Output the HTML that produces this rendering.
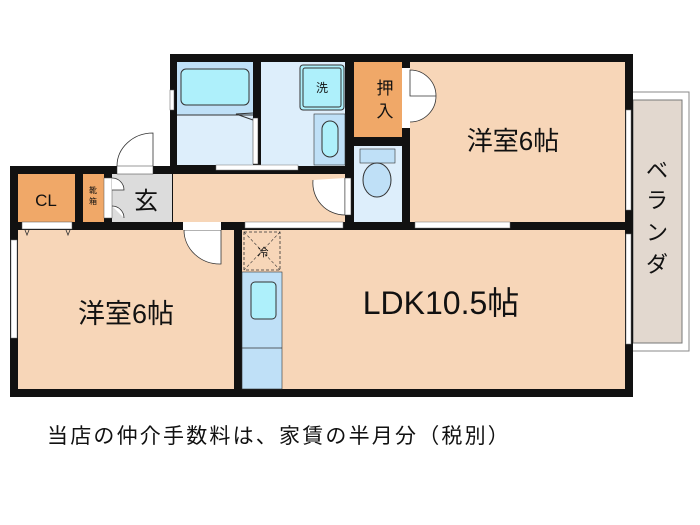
<!DOCTYPE html>
<html><head><meta charset="utf-8"><style>
body{margin:0;background:#fff;width:700px;height:525px;overflow:hidden}
svg{position:absolute;left:0;top:0}
text{font-family:"Liberation Sans","Noto Sans CJK JP",sans-serif;fill:#111}
</style></head><body>
<svg width="700" height="525" viewBox="0 0 700 525">
<rect x="625" y="92" width="64" height="259" fill="#fff" stroke="#888" stroke-width="1"/>
<rect x="633" y="100" width="49" height="243" fill="#e2d8cf" stroke="#777" stroke-width="1"/>
<rect x="170" y="54" width="463" height="343" fill="#111"/>
<rect x="10" y="166" width="165" height="231" fill="#111"/>
<rect x="177" y="62" width="76" height="53" fill="#bfe0f7"/>
<rect x="181" y="69" width="68" height="36" rx="5" fill="#aef0fb" stroke="#333" stroke-width="1"/>
<rect x="177" y="115" width="76" height="50" fill="#ddeefb"/>
<line x1="177" y1="115" x2="253" y2="115" stroke="#333"/>
<polyline points="253,113 236,114 253,120" fill="none" stroke="#333"/>
<rect x="170" y="90" width="4" height="20" fill="#fff" stroke="#555" stroke-width="0.5"/>
<rect x="261" y="62" width="84" height="104" fill="#ddeefb"/>
<rect x="300" y="65" width="44" height="45" rx="3" fill="#aef0fb" stroke="#333"/>
<rect x="303" y="68" width="38" height="39" rx="2" fill="none" stroke="#333"/>
<text x="322" y="92" font-size="12" text-anchor="middle">洗</text>
<rect x="314" y="114" width="31" height="51" fill="#bfe0f7" stroke="#333" stroke-width="0.6"/>
<rect x="322" y="121" width="16" height="36" rx="8" fill="#aef0fb" stroke="#333"/>
<rect x="253" y="118" width="5" height="46" fill="#fff" stroke="#333" stroke-width="0.5"/>
<rect x="216" y="165" width="82" height="5" fill="#fff" stroke="#777" stroke-width="0.5"/>
<rect x="354" y="62" width="48" height="75" fill="#f0a868"/>
<text x="385" y="94" font-size="17" text-anchor="middle">押</text>
<text x="385" y="117" font-size="17" text-anchor="middle">入</text>
<rect x="354" y="146" width="48" height="76" fill="#ddeefb"/>
<rect x="360" y="149" width="35" height="14" fill="#bfe0f7" stroke="#333" stroke-width="0.6"/>
<ellipse cx="377" cy="180" rx="14" ry="17" fill="#bfe0f7" stroke="#333"/>
<rect x="410" y="62" width="215" height="160" fill="#f7d6b8"/>
<rect x="402" y="68" width="8" height="60" fill="#fff"/>
<path d="M410,70 A26,26 0 0 1 436,96 L410,96 Z M410,96 L436,96 A26,26 0 0 1 410,122" fill="#fff" stroke="#333" stroke-width="0.8"/>
<text x="513" y="150" font-size="26" text-anchor="middle">洋室6帖</text>
<rect x="626" y="110" width="5" height="100" fill="#fff" stroke="#777" stroke-width="0.5"/>
<rect x="415" y="222" width="95" height="6" fill="#fff" stroke="#777" stroke-width="0.5"/>
<rect x="18" y="174" width="57" height="48" fill="#f0a868"/>
<text x="46" y="206" font-size="17" text-anchor="middle">CL</text>
<rect x="83" y="174" width="21" height="48" fill="#f0a868"/>
<text x="93" y="193" font-size="8" text-anchor="middle">靴</text>
<text x="93" y="204" font-size="8" text-anchor="middle">箱</text>
<rect x="112" y="174" width="60" height="48" fill="#dcdcdc"/>
<rect x="104" y="178" width="8" height="40" fill="#fff" stroke="#555" stroke-width="0.5"/>
<path d="M112,178 A12,12 0 0 1 124,190 L112,190 M112,206 A12,12 0 0 1 124,218" fill="#fff" stroke="#333" stroke-width="0.8"/>
<text x="146" y="209" font-size="24" text-anchor="middle">玄</text>
<rect x="173" y="174" width="172" height="48" fill="#f7d6b8"/>
<path d="M345,178 L345,215 A32,32 0 0 1 313,180" fill="#fff" stroke="#333" stroke-width="0.8"/>
<rect x="345" y="178" width="6" height="37" fill="#fff" stroke="#333" stroke-width="0.5"/>
<path d="M153,166 L153,133 A36,33 0 0 0 117,166" fill="#fff" stroke="#333" stroke-width="0.8"/>
<rect x="117" y="166" width="36" height="8" fill="#fff" stroke="#333" stroke-width="0.5"/>
<rect x="18" y="230" width="216" height="159" fill="#f7d6b8"/>
<rect x="22" y="222" width="50" height="7" fill="#fff" stroke="#555" stroke-width="0.5"/>
<path d="M25,230 l2,5 l2,-5 M66,230 l2,5 l2,-5" fill="none" stroke="#333" stroke-width="0.8"/>
<rect x="11" y="240" width="6" height="98" fill="#fff" stroke="#777" stroke-width="0.5"/>
<path d="M221,230 L221,264 A36,34 0 0 1 184,230 Z" fill="#fff" stroke="#333" stroke-width="0.8"/>
<rect x="183" y="222" width="38" height="8" fill="#fff"/>
<text x="126" y="323" font-size="27" text-anchor="middle">洋室6帖</text>
<rect x="242" y="230" width="383" height="159" fill="#f7d6b8"/>
<rect x="245" y="222" width="98" height="6" fill="#fff" stroke="#777" stroke-width="0.5"/>
<rect x="244" y="232" width="36" height="38" fill="#f7d6b8" stroke="#333" stroke-width="0.8" stroke-dasharray="3,2"/>
<path d="M244,232 L280,270 M280,232 L244,270" stroke="#333" stroke-width="0.6" stroke-dasharray="3,2"/>
<text x="263" y="256" font-size="11" text-anchor="middle">冷</text>
<rect x="242" y="272" width="40" height="117" fill="#bfe0f7" stroke="#333" stroke-width="0.6"/>
<line x1="242" y1="348" x2="282" y2="348" stroke="#333" stroke-width="0.8"/>
<rect x="251" y="282" width="25" height="37" rx="4" fill="#aef0fb" stroke="#333"/>
<rect x="626" y="234" width="5" height="110" fill="#fff" stroke="#777" stroke-width="0.5"/>
<text x="441" y="314" font-size="32" text-anchor="middle">LDK10.5帖</text>
<text x="657" y="178" font-size="22" text-anchor="middle">ベ</text>
<text x="657" y="208" font-size="22" text-anchor="middle">ラ</text>
<text x="657" y="240" font-size="22" text-anchor="middle">ン</text>
<text x="657" y="272" font-size="22" text-anchor="middle">ダ</text>
<text x="47" y="443" font-size="21" letter-spacing="2.2">当店の仲介手数料は、家賃の半月分（税別）</text>
</svg>
</body></html>
